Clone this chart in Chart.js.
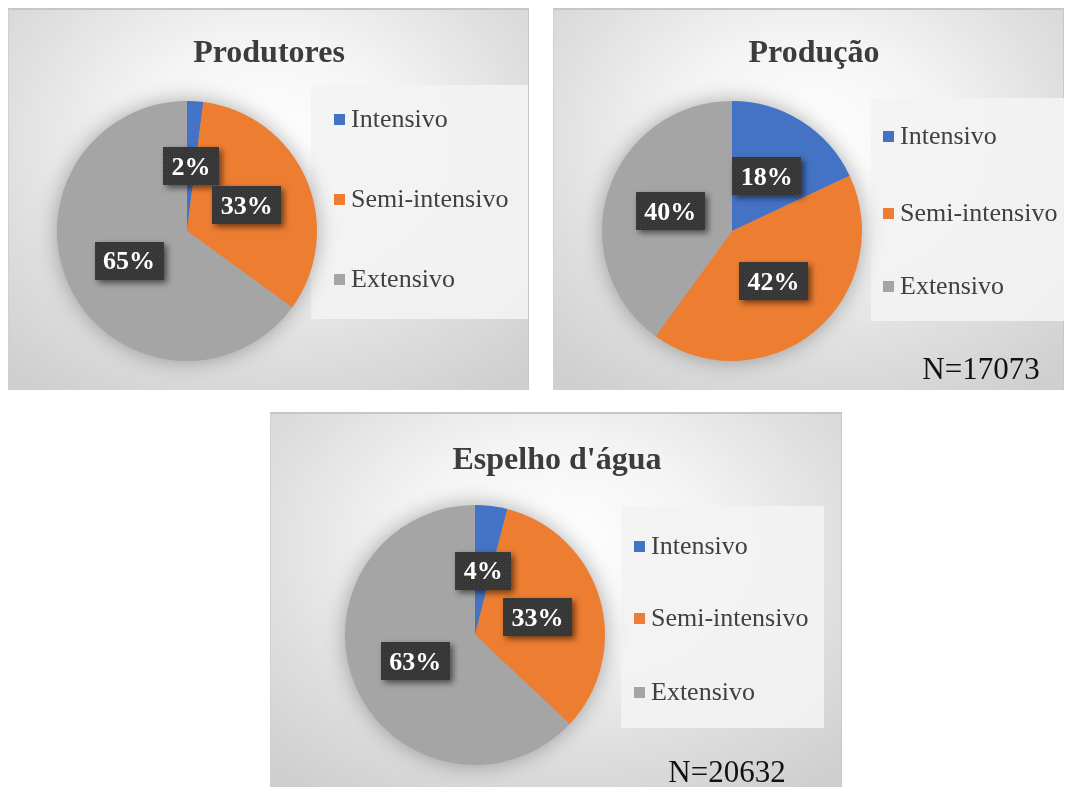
<!DOCTYPE html>
<html>
<head>
<meta charset="utf-8">
<script src="https://cdn.jsdelivr.net/npm/chart.js@4.4.0/dist/chart.umd.min.js"></script>
<style>
  html, body { margin: 0; padding: 0; background: #ffffff; width: 1067px; height: 787px; overflow: hidden; }
  .panel { position: absolute; box-sizing: border-box;
    background: radial-gradient(ellipse 75% 80% at 50% 35%, #ffffff 0%, #f4f4f4 35%, #dedede 70%, #cfcfcf 100%);
    border-top: 2px solid #c6c6c6; border-left: 1px solid #d0d0d0; border-right: 1px solid #c8c8c8; }
  canvas { position: absolute; left: 0; top: 0; }
</style>
</head>
<body>
<div id="p1" class="panel" style="left:8px; top:8px; width:521px; height:382px;"></div>
<div id="p2" class="panel" style="left:553px; top:8px; width:511px; height:382px;"></div>
<div id="p3" class="panel" style="left:270px; top:412px; width:572px; height:375px;"></div>
<script>
// ---- data ----
const categories = ['Intensivo', 'Semi-intensivo', 'Extensivo'];
const produtoresValues = [2, 33, 65];
const producaoValues = [18, 42, 40];
const espelhoValues = [4, 33, 63];
const chartTitles = ['Produtores', 'Produção', "Espelho d'água"];
const sampleSizes = ['', 'N=17073', 'N=20632'];
const sliceColors = ['#4472C4', '#ED7D31', '#A5A5A5'];

// ---- layout (positions only) ----
const layouts = [
  { el: 'p1', w: 521, h: 382, pad: { left: 48, top: 91, right: 213, bottom: 31 },
    titleX: 260, titleY: 52,
    legendBox: [302, 75, 217, 234], legendX: 325, legendTextX: 342, legendY: [109, 189, 269],
    nX: 0, nY: 0 },
  { el: 'p2', w: 511, h: 382, pad: { left: 48, top: 91, right: 203, bottom: 31 },
    titleX: 260, titleY: 52,
    legendBox: [317, 88, 193, 223], legendX: 329, legendTextX: 346, legendY: [126, 203, 276],
    nX: 427, nY: 369 },
  { el: 'p3', w: 572, h: 375, pad: { left: 74, top: 91, right: 238, bottom: 24 },
    titleX: 286, titleY: 55,
    legendBox: [350, 92, 203, 222], legendX: 363, legendTextX: 380, legendY: [132, 204, 278],
    nX: 456, nY: 368 }
];
const seriesList = [produtoresValues, producaoValues, espelhoValues];

// dark textured pattern for data label boxes
function makePattern(ctx) {
  const c = document.createElement('canvas');
  c.width = 4; c.height = 4;
  const g = c.getContext('2d');
  g.fillStyle = '#363636'; g.fillRect(0, 0, 4, 4);
  g.fillStyle = '#474747'; g.fillRect(0, 0, 1, 1); g.fillRect(2, 2, 1, 1);
  return ctx.createPattern(c, 'repeat');
}

const decorPlugin = {
  id: 'panelDecor',
  beforeDatasetsDraw(chart, args, opts) {
    const ctx = chart.ctx;
    const L = opts.layout;
    ctx.save();
    ctx.fillStyle = 'rgba(243,243,243,0.9)';
    ctx.fillRect(L.legendBox[0], L.legendBox[1], L.legendBox[2], L.legendBox[3]);
    ctx.restore();
    const arc = chart.getDatasetMeta(0).data[0];
    if (arc) {
      ctx.save();
      ctx.beginPath();
      ctx.arc(arc.x, arc.y, arc.outerRadius - 1, 0, Math.PI * 2);
      ctx.shadowColor = 'rgba(0,0,0,0.35)';
      ctx.shadowBlur = 22;
      ctx.fillStyle = '#a5a5a5';
      ctx.fill();
      ctx.restore();
    }
  },
  afterDatasetsDraw(chart, args, opts) {
    const ctx = chart.ctx;
    const L = opts.layout;
    const pattern = makePattern(ctx);
    // title
    ctx.save();
    ctx.font = 'bold 32px "Liberation Serif", "Times New Roman", serif';
    ctx.fillStyle = '#3c3c3c';
    ctx.textAlign = 'center';
    ctx.textBaseline = 'alphabetic';
    ctx.fillText(opts.title, L.titleX, L.titleY);
    ctx.restore();
    // legend
    const labels = chart.data.labels;
    const colors = chart.data.datasets[0].backgroundColor;
    ctx.save();
    ctx.font = '26px "Liberation Serif", "Times New Roman", serif';
    ctx.textBaseline = 'middle';
    ctx.textAlign = 'left';
    labels.forEach((lab, i) => {
      const y = L.legendY[i];
      ctx.fillStyle = colors[i];
      ctx.fillRect(L.legendX, y - 5, 11, 11);
      ctx.fillStyle = '#404040';
      ctx.fillText(lab, L.legendTextX, y + 1);
    });
    ctx.restore();
    // N label
    if (opts.nText) {
      ctx.save();
      ctx.font = '31px "Liberation Serif", "Times New Roman", serif';
      ctx.fillStyle = '#111111';
      ctx.textAlign = 'center';
      ctx.textBaseline = 'alphabetic';
      ctx.fillText(opts.nText, L.nX, L.nY);
      ctx.restore();
    }
    // data labels
    const meta = chart.getDatasetMeta(0);
    const data = chart.data.datasets[0].data;
    meta.data.forEach((el, i) => {
      const p = el.tooltipPosition();
      const txt = data[i] + '%';
      ctx.save();
      ctx.font = 'bold 26px "Liberation Serif", "Times New Roman", serif';
      const tw = ctx.measureText(txt).width;
      const bw = tw + 17, bh = 38;
      const bx = Math.round(p.x - bw / 2), by = Math.round(p.y - bh / 2);
      ctx.shadowColor = 'rgba(0,0,0,0.55)';
      ctx.shadowBlur = 6;
      ctx.shadowOffsetX = 3;
      ctx.shadowOffsetY = 3;
      ctx.fillStyle = pattern;
      ctx.fillRect(bx, by, bw, bh);
      ctx.shadowColor = 'transparent';
      ctx.fillStyle = '#ffffff';
      ctx.textAlign = 'center';
      ctx.textBaseline = 'middle';
      ctx.fillText(txt, p.x, p.y + 2);
      ctx.restore();
    });
  }
};

layouts.forEach((L, k) => {
  const host = document.getElementById(L.el);
  const cv = document.createElement('canvas');
  cv.width = L.w; cv.height = L.h;
  cv.style.width = L.w + 'px'; cv.style.height = L.h + 'px';
  host.appendChild(cv);
  new Chart(cv.getContext('2d'), {
    type: 'pie',
    data: {
      labels: categories,
      datasets: [{
        data: seriesList[k],
        backgroundColor: sliceColors,
        borderWidth: 0
      }]
    },
    options: {
      responsive: false,
      devicePixelRatio: 1,
      animation: false,
      layout: { padding: L.pad },
      plugins: {
        legend: { display: false },
        title: { display: false },
        tooltip: { enabled: false },
        panelDecor: { layout: L, title: chartTitles[k], nText: sampleSizes[k] }
      }
    },
    plugins: [decorPlugin]
  });
});
</script>
</body>
</html>
